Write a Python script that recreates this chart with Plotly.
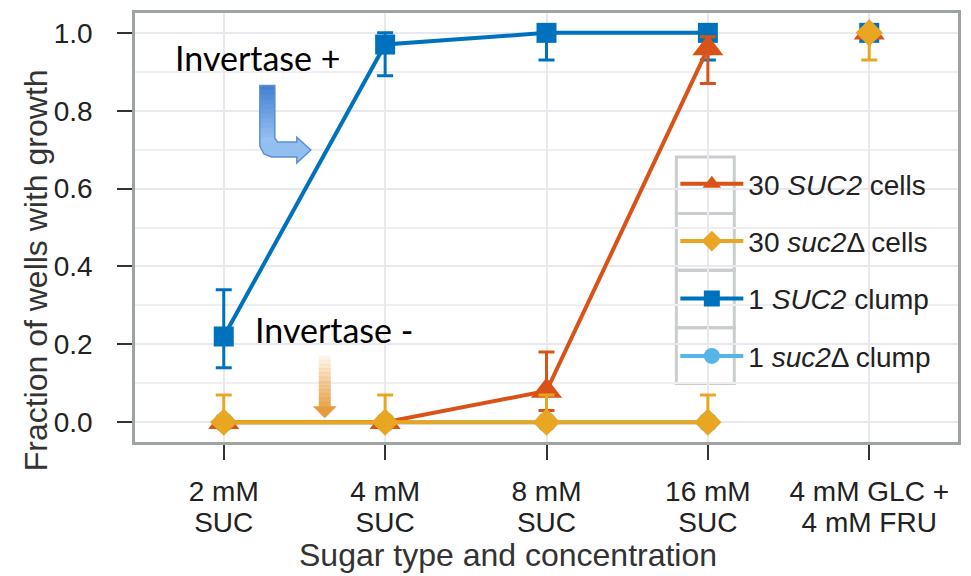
import plotly.graph_objects as go

categories = ["2 mM<br>SUC", "4 mM<br>SUC", "8 mM<br>SUC", "16 mM<br>SUC", "4 mM GLC +<br>4 mM FRU"]

suc2_cells = [0.0, 0.0, 0.08, 0.96, 1.0]
suc2_cells_plus = [0.0, 0.0, 0.10, 0.03, 0.0]
suc2_cells_minus = [0.0, 0.0, 0.05, 0.09, 0.0]

del_cells = [0.0, 0.0, 0.0, 0.0, 1.0]
del_cells_plus = [0.07, 0.07, 0.07, 0.07, 0.0]
del_cells_minus = [0.0, 0.0, 0.0, 0.0, 0.07]

suc2_clump = [0.22, 0.97, 1.0, 1.0, 1.0]
suc2_clump_plus = [0.12, 0.03, 0.0, 0.0, 0.0]
suc2_clump_minus = [0.08, 0.08, 0.07, 0.07, 0.0]

del_clump = [0.0, 0.0, 0.0, 0.0, 1.0]

series_names = ["30 <i>SUC2</i> cells", "30 <i>suc2</i>Δ cells", "1 <i>SUC2</i> clump", "1 <i>suc2</i>Δ clump"]

ORANGE = "#D95319"
YELLOW = "#E9A623"
BLUE = "#0072BD"
LBLUE = "#55B4E8"

W, H = 971, 576
L, R, T, B = 135, 959, 10, 442


def P(px, py):
    return (px - L) / (R - L), (B - py) / (B - T)


def path(points, close=True):
    s = ""
    for i, (px, py) in enumerate(points):
        x, y = P(px, py)
        s += ("M" if i == 0 else "L") + f"{x:.5f},{y:.5f} "
    return s + ("Z" if close else "")


def lerp_col(c0, c1, t, a=1.0):
    r = c0[0] + (c1[0] - c0[0]) * t
    g = c0[1] + (c1[1] - c0[1]) * t
    b = c0[2] + (c1[2] - c0[2]) * t
    return f"rgba({r:.0f},{g:.0f},{b:.0f},{a:.2f})"


fig = go.Figure()

# draw order: light blue, blue, orange, yellow ; legend order via legendrank
specs = [
    (del_clump, None, None, LBLUE, "circle", 20, series_names[3], 4),
    (suc2_clump, suc2_clump_plus, suc2_clump_minus, BLUE, "square", 20, series_names[2], 3),
    (suc2_cells, suc2_cells_plus, suc2_cells_minus, ORANGE, "triangle-up", 27, series_names[0], 1),
    (del_cells, del_cells_plus, del_cells_minus, YELLOW, "diamond", 21, series_names[1], 2),
]

for vals, plus, minus, col, sym, size, name, rank in specs:
    err = None
    err2 = None
    if plus is not None:
        err = dict(type="data", symmetric=False, array=plus[:4], arrayminus=minus[:4],
                   color=col, thickness=3, width=8)
        err2 = dict(type="data", symmetric=False, array=plus[4:], arrayminus=minus[4:],
                    color=col, thickness=3, width=8)
    fig.add_trace(go.Scatter(
        x=categories[:4], y=vals[:4], mode="lines+markers", name=name,
        line=dict(color=col, width=4),
        marker=dict(symbol=sym, size=size, color=col),
        error_y=err, legendrank=rank, legendgroup=f"g{rank}",
    ))
    fig.add_trace(go.Scatter(
        x=categories[4:], y=vals[4:], mode="markers", showlegend=False,
        marker=dict(symbol=sym, size=size, color=col),
        error_y=err2, legendgroup=f"g{rank}",
    ))

shapes = []
# blue bent arrow: gradient body then outline
blue_arrow = [(260, 83), (275, 83), (275, 136), (278, 140), (297, 140), (297, 135),
              (311, 148), (297, 161), (297, 155), (272, 155), (264, 152), (260, 144)]
shapes.append(dict(type="path", xref="paper", yref="paper", path=path(blue_arrow),
                   fillcolor="#93BFF0", line=dict(width=0), layer="above"))
dark, light = (70, 130, 210), (150, 192, 242)
nb = 12
for i in range(nb):
    y0 = 83 + (140 - 83) * i / nb
    y1 = 83 + (140 - 83) * (i + 1) / nb + 0.5
    shapes.append(dict(type="path", xref="paper", yref="paper",
                       path=path([(260, y0), (275, y0), (275, y1), (260, y1)]),
                       fillcolor=lerp_col(dark, light, i / (nb - 1)), line=dict(width=0), layer="above"))
shapes.append(dict(type="path", xref="paper", yref="paper", path=path(blue_arrow),
                   fillcolor="rgba(0,0,0,0)", line=dict(color="#5B90D2", width=1.5), layer="above"))

# orange fading arrow
n = 12
top, bot = 355, 406
for i in range(n):
    y0 = top + (bot - top) * i / n
    y1 = top + (bot - top) * (i + 1) / n + 0.5
    a = 0.04 + 0.85 * (i + 1) / n
    shapes.append(dict(type="path", xref="paper", yref="paper",
                       path=path([(319, y0), (331, y0), (331, y1), (319, y1)]),
                       fillcolor=f"rgba(232,158,60,{a:.2f})", line=dict(width=0), layer="above"))
shapes.append(dict(type="path", xref="paper", yref="paper",
                   path=path([(313, 406), (337, 406), (325, 418)]),
                   fillcolor="rgba(228,150,50,0.95)", line=dict(width=0), layer="above"))

# legend symbol boxes
lx0, lx1 = 677, 735
ly = [155, 212, 269, 327, 383]
for i in range(4):
    x0, y0 = P(lx0, ly[i])
    x1, y1 = P(lx1, ly[i + 1])
    shapes.append(dict(type="rect", xref="paper", yref="paper", x0=x0, x1=x1, y0=y0, y1=y1,
                       line=dict(color="#C9CDCD", width=3), fillcolor="rgba(0,0,0,0)", layer="below"))

annotations = []
ax, ay = P(258, 55)
annotations.append(dict(x=ax, y=ay, xref="paper", yref="paper", text="Invertase +", showarrow=False,
                        font=dict(family="Lato", size=34, color="#000"), xanchor="center", yanchor="middle"))
ax, ay = P(334, 329)
annotations.append(dict(x=ax, y=ay, xref="paper", yref="paper", text="Invertase -", showarrow=False,
                        font=dict(family="Lato", size=34, color="#000"), xanchor="center", yanchor="middle"))
ax, ay = P(508, 556)
annotations.append(dict(x=ax, y=ay, xref="paper", yref="paper", text="Sugar type and concentration",
                        showarrow=False, font=dict(family="Liberation Sans", size=32, color="#333"),
                        xanchor="center", yanchor="middle"))
ax, ay = P(36, 269)
annotations.append(dict(x=ax, y=ay, xref="paper", yref="paper", text="Fraction of wells with growth",
                        showarrow=False, textangle=-90, font=dict(family="Liberation Sans", size=32, color="#333"),
                        xanchor="center", yanchor="middle"))

# tick labels: 28px glyphs with tighter line spacing
tick_text = ["<br>".join(f'<span style="font-size:28px">{part}</span>' for part in c.split("<br>"))
             for c in categories]

lgx, lgy = P(676, 157)
fig.update_layout(
    width=W, height=H,
    margin=dict(l=L, r=W - R, t=T, b=H - B),
    paper_bgcolor="white", plot_bgcolor="white",
    font=dict(family="Liberation Sans", size=28, color="#222"),
    shapes=shapes, annotations=annotations,
    legend=dict(x=lgx, y=lgy, xanchor="left", yanchor="top", bgcolor="rgba(0,0,0,0)",
                font=dict(family="Liberation Sans", size=28, color="#222"),
                traceorder="grouped", tracegroupgap=18, itemwidth=63),
    showlegend=True,
)
fig.update_xaxes(
    type="category", range=[-0.55, 4.55], tickmode="array", tickvals=categories, ticktext=tick_text,
    showline=True, mirror=True, linecolor="#9EA3A3", linewidth=2.5,
    showgrid=True, gridcolor="#E8E8EE", gridwidth=2, ticks="outside", ticklen=15, tickwidth=1.5,
    tickcolor="#333", ticklabelstandoff=12, tickfont=dict(size=24, color="#222"), zeroline=False,
)
fig.update_yaxes(
    range=[-0.051, 1.051], tickvals=[0, 0.2, 0.4, 0.6, 0.8, 1.0], ticktext=["0.0", "0.2", "0.4", "0.6", "0.8", "1.0"],
    showline=True, mirror=True, linecolor="#9EA3A3", linewidth=2.5,
    showgrid=True, gridcolor="#E8E8EE", gridwidth=2, ticks="outside", ticklen=15, tickwidth=1.5,
    tickcolor="#333", ticklabelstandoff=19, tickfont=dict(size=28, color="#222"), zeroline=False,
    minor=dict(dtick=0.1, tick0=0, showgrid=True, gridcolor="#EFEFF3", gridwidth=2, ticks=""),
)

fig.write_html("out.html", config={"displayModeBar": False},
               post_script="document.body.style.margin='0';")
